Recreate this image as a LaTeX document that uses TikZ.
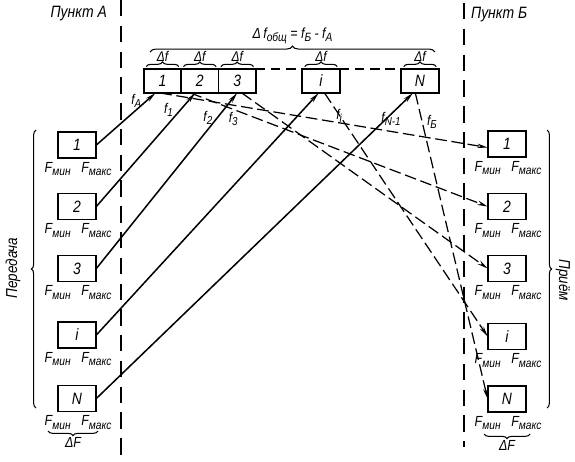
\documentclass[tikz,border=0pt]{standalone}
\usepackage{fontspec}
\usepackage{graphicx}
\setmainfont{Liberation Sans}[FakeStretch=0.85]
\usetikzlibrary{
  arrows.meta,
  positioning,
  decorations.pathreplacing
}
\newcommand{\fsub}[2]{\textit{#1}\raisebox{-0.45ex}{\scalebox{0.82}{\itshape #2}}}

\begin{document}
\begin{tikzpicture}[
    x=0.3mm, y=-0.3mm,
    every node/.style={font=\itshape\fontsize{12.5}{14}\selectfont},
    chan/.style={
      rectangle, draw, line width=1.6pt, fill=white,
      minimum width=1.16cm, minimum height=0.78cm,
      inner sep=0pt, outer sep=0pt,
      font=\itshape\fontsize{14}{16}\selectfont
    },
    slot/.style={chan, minimum width=1.12cm, minimum height=0.72cm},
    arrow/.style={-{Stealth[length=9pt,width=3.8pt]}, line width=1.3pt},
    dasharrow/.style={-{Stealth[length=9pt,width=3.8pt]}, line width=1.05pt,
      dash pattern=on 10pt off 4pt},
    border/.style={line width=1.1pt, dash pattern=on 14pt off 8pt},
    topline/.style={line width=1pt, dash pattern=on 8pt off 5pt},
    brace/.style={decorate, decoration={brace, amplitude=4pt}, line width=0.9pt},
    flabel/.style={font=\itshape\fontsize{12}{14}\selectfont, inner sep=1pt},
  ]
  \useasboundingbox (0,0) rectangle (575,461);

  % --- Stations ---
  \coordinate (aTop) at (121,0);
  \coordinate (aBot) at (121,455);
  \coordinate (bTop) at (464,3);
  \coordinate (bBot) at (464,447);
  \draw[border] (aTop) -- (aBot);
  \draw[border] (bTop) -- (bBot);
  \node[anchor=east, font=\itshape\fontsize{14}{16}\selectfont] (ptA) at (111,14) {Пункт А};
  \node[anchor=west, font=\itshape\fontsize{14}{16}\selectfont] (ptB) at (467,15) {Пункт Б};

  % --- Line spectrum ---
  \node[slot] (s1) at (162.5,81) {1};
  \node[slot, right=0pt of s1] (s2) {2};
  \node[slot, right=0pt of s2] (s3) {3};
  \node[slot] (si) at (321,81) {i};
  \node[slot] (sN) at (420,81) {N};
  \draw[topline] (s3.north east) -- (si.north west);
  \draw[topline] (si.north east) -- (sN.north west);

  \draw[brace] ([xshift=2pt,yshift=2pt]s1.north west) -- ([xshift=-2pt,yshift=2pt]s1.north east)
    node[midway, above=3pt, flabel] (df1) {Δ\textit{f}};
  \draw[brace] ([xshift=2pt,yshift=2pt]s2.north west) -- ([xshift=-2pt,yshift=2pt]s2.north east)
    node[midway, above=3pt, flabel] (df2) {Δ\textit{f}};
  \draw[brace] ([xshift=2pt,yshift=2pt]s3.north west) -- ([xshift=-2pt,yshift=2pt]s3.north east)
    node[midway, above=3pt, flabel] (df3) {Δ\textit{f}};
  \draw[brace] ([xshift=2pt,yshift=2pt]si.north west) -- ([xshift=-2pt,yshift=2pt]si.north east)
    node[midway, above=3pt, flabel] (dfi) {Δ\textit{f}};
  \draw[brace] ([xshift=2pt,yshift=2pt]sN.north west) -- ([xshift=-2pt,yshift=2pt]sN.north east)
    node[midway, above=3pt, flabel] (dfN) {Δ\textit{f}};
  \draw[brace, decoration={amplitude=5pt}] (150,52) -- (435,52)
    node[midway, above=3pt] (dftot) {Δ\,\fsub{f}{общ} = \fsub{f}{Б} - \fsub{f}{A}};

  \node[flabel, below left=0pt and 1pt of s1.south west] (fA) {\fsub{f}{A}};
  \node[flabel] (f1) at ([shift={(6,17)}]s1.south) {\fsub{f}{1}};
  \node[flabel] (f2) at ([shift={(8,25)}]s2.south) {\fsub{f}{2}};
  \node[flabel] (f3) at ([shift={(-4,26)}]s3.south) {\fsub{f}{3}};
  \node[flabel] (fi) at ([shift={(18,23)}]si.south) {\fsub{f}{i}};
  \node[flabel] (fN1) at ([shift={(-29,26)}]sN.south) {\fsub{f}{N-1}};
  \node[flabel] (fB) at ([shift={(12,29)}]sN.south) {\fsub{f}{Б}};

  % --- Transmit side ---
  \node[chan] (t1) at (77,145) {1};
  \node[chan] (t2) at (77,206.5) {2};
  \node[chan] (t3) at (77,268.5) {3};
  \node[chan] (ti) at (77,335) {i};
  \node[chan] (tN) at (77,398.5) {N};
  \node[below=0pt of t1.south west] (t1min) {\fsub{F}{мин}};
  \node[below=0pt of t1.south east] (t1max) {\fsub{F}{макс}};
  \node[below=0pt of t2.south west] (t2min) {\fsub{F}{мин}};
  \node[below=0pt of t2.south east] (t2max) {\fsub{F}{макс}};
  \node[below=0pt of t3.south west] (t3min) {\fsub{F}{мин}};
  \node[below=0pt of t3.south east] (t3max) {\fsub{F}{макс}};
  \node[below=0pt of ti.south west] (timin) {\fsub{F}{мин}};
  \node[below=0pt of ti.south east] (timax) {\fsub{F}{макс}};
  \node[below=0pt of tN.south west] (tNmin) {\fsub{F}{мин}};
  \node[below=0pt of tN.south east] (tNmax) {\fsub{F}{макс}};

  \draw[brace] (36,408) -- (36,130);
  \node[rotate=90, font=\itshape\fontsize{13.5}{15}\selectfont] (tx) at (13,268) {Передача};
  \draw[brace] (98,431) -- (48,431)
    node[midway, below=2pt] (dFt) {ΔF};

  % --- Receive side ---
  \node[chan] (r1) at (507,144) {1};
  \node[chan] (r2) at (507,206.5) {2};
  \node[chan] (r3) at (507,268.5) {3};
  \node[chan] (ri) at (507,336.5) {i};
  \node[chan] (rN) at (507,399) {N};
  \node[below=0pt of r1.south west] (r1min) {\fsub{F}{мин}};
  \node[below=0pt of r1.south east] (r1max) {\fsub{F}{макс}};
  \node[below=0pt of r2.south west] (r2min) {\fsub{F}{мин}};
  \node[below=0pt of r2.south east] (r2max) {\fsub{F}{макс}};
  \node[below=0pt of r3.south west] (r3min) {\fsub{F}{мин}};
  \node[below=0pt of r3.south east] (r3max) {\fsub{F}{макс}};
  \node[below=0pt of ri.south west] (rimin) {\fsub{F}{мин}};
  \node[below=0pt of ri.south east] (rimax) {\fsub{F}{макс}};
  \node[below=0pt of rN.south west] (rNmin) {\fsub{F}{мин}};
  \node[below=0pt of rN.south east] (rNmax) {\fsub{F}{макс}};

  \draw[brace] (547,130) -- (547,408);
  \node[rotate=-90, font=\itshape\fontsize{13.5}{15}\selectfont] (rx) at (563,280) {Приём};
  \draw[brace] (530,434) -- (484,434)
    node[midway, below=2pt] (dFr) {ΔF};

  % --- Arrows ---
  \draw[arrow] (t1.east) -- ([xshift=-6pt]s1.south);
  \draw[arrow] (t2.east) -- ([xshift=-4pt]s2.south);
  \draw[arrow] (t3.east) -- (s3.south);
  \draw[arrow] (ti.east) -- ([xshift=-2pt]si.south);
  \draw[arrow] (tN.east) -- ([xshift=-6pt]sN.south);

  \draw[dasharrow] ([xshift=-2pt]s1.south) -- ([yshift=-3pt]r1.west);
  \draw[dasharrow] ([xshift=-8pt]s2.south) -- (r2.west);
  \draw[dasharrow] ([xshift=4pt]s3.south) -- (r3.west);
  \draw[dasharrow] ([xshift=3pt]si.south) -- (ri.west);
  \draw[dasharrow] ([xshift=-4pt]sN.south) -- (rN.west);
\end{tikzpicture}
\end{document}
